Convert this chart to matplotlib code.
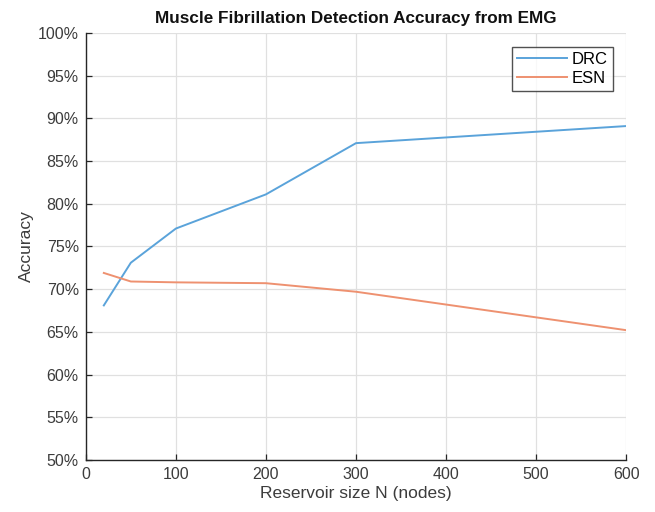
import matplotlib
matplotlib.use("Agg")
import matplotlib.pyplot as plt
from matplotlib.ticker import FuncFormatter

plt.rcParams['font.family'] = ['Liberation Sans', 'DejaVu Sans']

# Data
reservoir_n = [20, 50, 100, 200, 300, 600]
drc_acc = [68.1, 73.1, 77.1, 81.1, 87.1, 89.1]
esn_acc = [71.9, 70.9, 70.8, 70.7, 69.7, 65.2]

x_ticks = [0, 100, 200, 300, 400, 500, 600]
y_ticks = list(range(50, 101, 5))

fig = plt.figure(figsize=(6.55, 5.12), dpi=100)
ax = fig.add_axes([0.131, 0.1016, 0.825, 0.834])

ax.plot(reservoir_n, drc_acc, color='#5aa3da', lw=1.4, label='DRC')
ax.plot(reservoir_n, esn_acc, color='#ee9170', lw=1.4, label='ESN')

ax.set_xlim(0, 600)
ax.set_ylim(50, 100)
ax.set_xticks(x_ticks)
ax.set_yticks(y_ticks)
ax.yaxis.set_major_formatter(FuncFormatter(lambda v, p: '%d%%' % v))

ax.grid(True, color='#e0e0e0', lw=0.9)
ax.set_axisbelow(True)
for s in ['top', 'right']:
    ax.spines[s].set_visible(False)
for s in ['left', 'bottom']:
    ax.spines[s].set_color('#262626')
    ax.spines[s].set_linewidth(1.0)

ax.tick_params(direction='in', length=4, width=0.9, colors='#262626',
               labelsize=11.5, labelcolor='#3c3c3c', pad=5)

ax.set_xlabel('Reservoir size N (nodes)', fontsize=12.5, color='#3c3c3c', labelpad=3)
ax.set_ylabel('Accuracy', fontsize=12.5, color='#3c3c3c', labelpad=3)
ax.set_title('Muscle Fibrillation Detection Accuracy from EMG',
             fontsize=12.3, fontweight='bold', color='#111111', pad=7)

leg = ax.legend(loc='upper right', bbox_to_anchor=(0.975, 0.968), fontsize=12,
                frameon=True, fancybox=False, handlelength=3.0,
                borderpad=0.3, labelspacing=0.25, handletextpad=0.3,
                borderaxespad=0)
leg.get_frame().set_edgecolor('#262626')
leg.get_frame().set_linewidth(1.0)

fig.savefig('out.png', dpi=100, facecolor='white')
